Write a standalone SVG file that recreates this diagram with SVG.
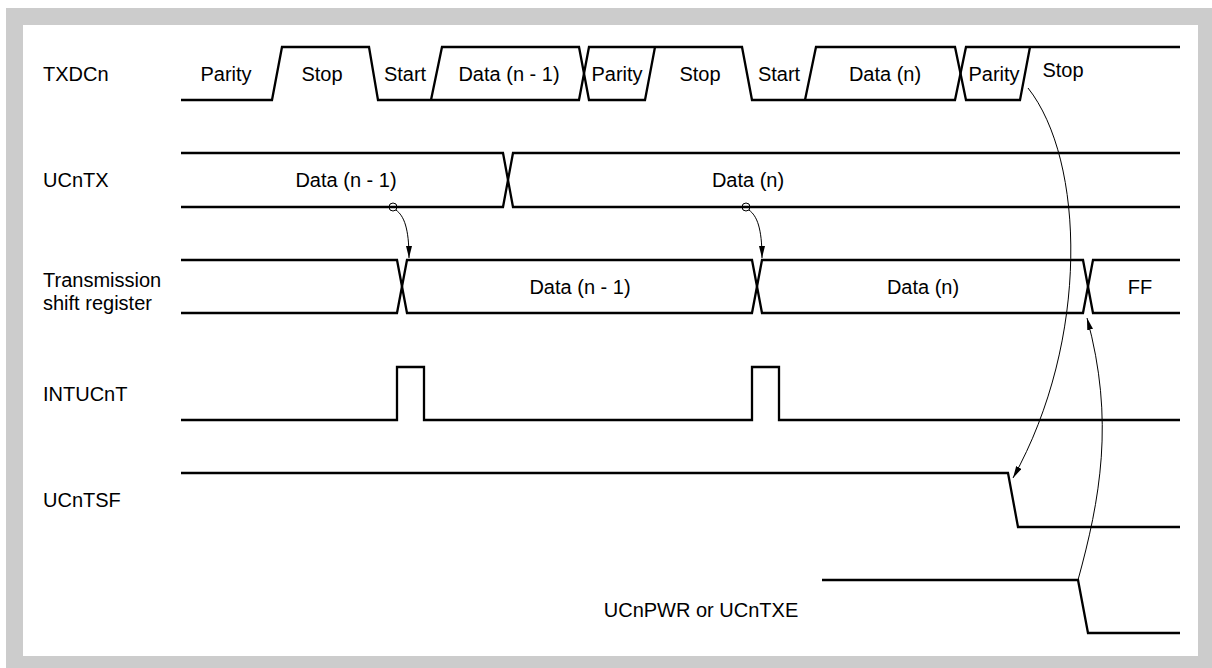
<svg xmlns="http://www.w3.org/2000/svg" width="1212" height="668" viewBox="0 0 1212 668">
  <style>
    .wave { fill: none; stroke: #000; stroke-width: 2.3; stroke-linejoin: miter; }
    .conn { fill: none; stroke: #000; stroke-width: 1; }
    .lbl { font-family: "Liberation Sans", Arial, Helvetica, sans-serif; font-size: 20px; fill: #000; }
    .mid { text-anchor: middle; }
  </style>
  <defs>
    <marker id="arr" markerUnits="userSpaceOnUse" markerWidth="12" markerHeight="6" viewBox="0 0 12 6" refX="12" refY="3" orient="auto">
      <path d="M0,0 L12,3 L0,6 z" fill="#000"/>
    </marker>
  </defs>

  <g id="frame">
    <rect x="6" y="8" width="1206" height="660" fill="#cccccc"/>
    <rect x="23" y="25" width="1175" height="631" fill="#ffffff"/>
  </g>

  <g id="txdcn">
    <text class="lbl" x="43" y="81">TXDCn</text>
    <path class="wave" d="M181,100 H272 L282,47 H369 L378,100 H579 L589,47 H742 L752,100 H955 L966,47 H1180"/>
    <path class="wave" d="M431,100 L442,47 H579 L589,100 H645 L655,47 M805,100 L816,47 H955 L966,100 H1020 L1030,47"/>
    <text class="lbl mid" x="226" y="81">Parity</text>
    <text class="lbl mid" x="322" y="81">Stop</text>
    <text class="lbl mid" x="405" y="81">Start</text>
    <text class="lbl mid" x="509" y="81">Data (n - 1)</text>
    <text class="lbl mid" x="617" y="81">Parity</text>
    <text class="lbl mid" x="700" y="81">Stop</text>
    <text class="lbl mid" x="779" y="81">Start</text>
    <text class="lbl mid" x="885" y="81">Data (n)</text>
    <text class="lbl mid" x="994" y="81">Parity</text>
    <text class="lbl mid" x="1063" y="77">Stop</text>
  </g>

  <g id="ucntx">
    <text class="lbl" x="43" y="187">UCnTX</text>
    <path class="wave" d="M181,153 H503 L513,207 H1180"/>
    <path class="wave" d="M181,207 H503 L513,153 H1180"/>
    <text class="lbl mid" x="346" y="187">Data (n - 1)</text>
    <text class="lbl mid" x="748" y="187">Data (n)</text>
  </g>

  <g id="shift-register">
    <text class="lbl" x="43" y="287">Transmission</text>
    <text class="lbl" x="43" y="310">shift register</text>
    <path class="wave" d="M181,260 H397 L407,313 H752 L762,260 H1083 L1093,313 H1180"/>
    <path class="wave" d="M181,313 H397 L407,260 H752 L762,313 H1083 L1093,260 H1180"/>
    <text class="lbl mid" x="580" y="294">Data (n - 1)</text>
    <text class="lbl mid" x="923" y="294">Data (n)</text>
    <text class="lbl mid" x="1140" y="294">FF</text>
  </g>

  <g id="intucnt">
    <text class="lbl" x="43" y="401">INTUCnT</text>
    <path class="wave" d="M181,420 H397 V367 H424 V420 H752 V367 H779 V420 H1180"/>
  </g>

  <g id="ucntsf">
    <text class="lbl" x="43" y="507">UCnTSF</text>
    <path class="wave" d="M181,473 H1008 L1018,527 H1180"/>
  </g>

  <g id="ucnpwr">
    <path class="wave" d="M822,580 H1078 L1088,633 H1180"/>
    <text class="lbl mid" x="701" y="617">UCnPWR or UCnTXE</text>
  </g>

  <g id="connectors">
    <circle class="conn" cx="393" cy="207" r="4"/>
    <path class="conn" d="M396,210 C404,216 409,228 409,258" marker-end="url(#arr)"/>
    <circle class="conn" cx="746" cy="207" r="4"/>
    <path class="conn" d="M749,210 C757,216 762,228 762,258" marker-end="url(#arr)"/>
    <path class="conn" d="M1028,88 C1085,160 1090,340 1013,478" marker-end="url(#arr)"/>
    <path class="conn" d="M1078,580 C1100,500 1115,420 1087,318" marker-end="url(#arr)"/>
  </g>
</svg>
